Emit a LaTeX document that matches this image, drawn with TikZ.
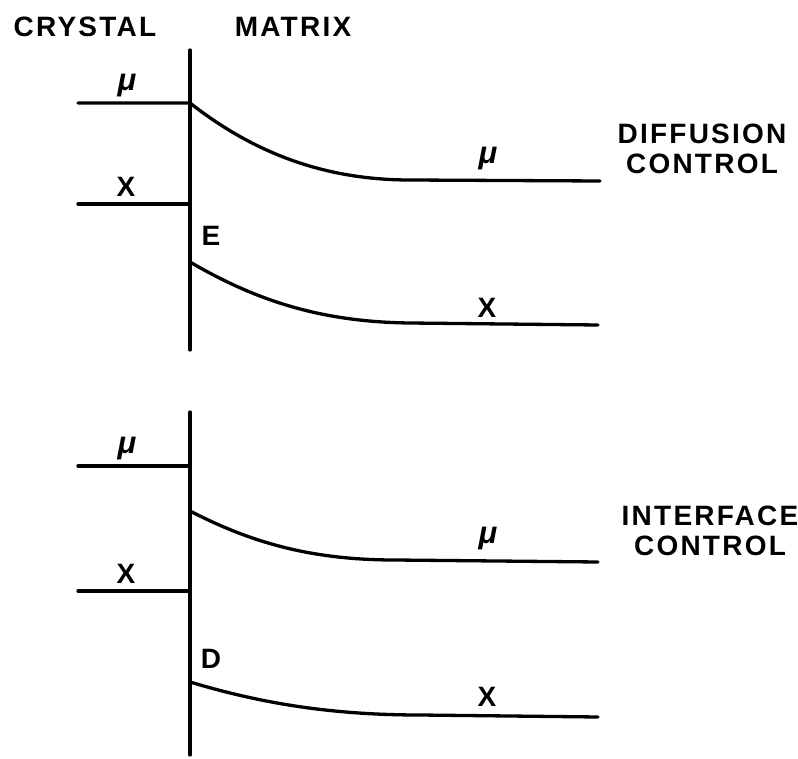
\documentclass[tikz,border=0pt]{standalone}
\usepackage{fontspec}
\setmainfont{Liberation Sans}
\newfontfamily\spacedfont[LetterSpace=8]{Liberation Sans}
\usepackage{tikz}
\usetikzlibrary{positioning}

\begin{document}
\begin{tikzpicture}[
  x=1pt, y=-1pt,
  level/.style={line width=3.3pt, line cap=round},
  title/.style={font=\fontsize{28}{31}\selectfont\spacedfont\bfseries, inner sep=0pt},
  lbl/.style={font=\fontsize{28}{31}\selectfont\bfseries, inner sep=0pt},
  mulbl/.style={font=\fontsize{31}{33}\selectfont\bfseries\itshape, inner sep=0pt},
]
\useasboundingbox (0,0) rectangle (798,759);

% headings
\node[title] (crystal) at (85,27)  {CRYSTAL};
\node[title] (matrix)  at (293,27) {MATRIX};

% top panel: diffusion control
\coordinate (wallTtop) at (190,50);
\coordinate (wallTbot) at (190,350);
\draw[level] (wallTtop) -- (wallTbot);
\coordinate (muTl) at (78,103);
\coordinate (muTw) at (190,103);
\coordinate (muTk) at (410,180);
\coordinate (muTr) at (600,181);
\draw[level] (muTl) -- (muTw) .. controls (250,150) and (320,180) .. (muTk) -- (muTr);
\coordinate (xTl) at (78,204);
\coordinate (xTw) at (190,204);
\draw[level] (xTl) -- (xTw);
\coordinate (xTs) at (190,262);
\coordinate (xTk) at (410,323);
\coordinate (xTr) at (598,325);
\draw[level] (xTs) .. controls (255,300) and (320,322) .. (xTk) -- (xTr);
\node[mulbl] (muTlab)  at (127,86)  {μ};
\node[lbl]   (xTlab)   at (126,187) {X};
\node[lbl]   (eLab)    at (211,236) {E};
\node[mulbl] (muTrlab) at (488,159) {μ};
\node[lbl]   (xTrlab)  at (487,308) {X};
\node[title, align=center] (diffctl) at (702,149)
  {DIFFUSION\\[-1pt]CONTROL};

% bottom panel: interface control
\coordinate (wallBtop) at (190,412);
\coordinate (wallBbot) at (190,755);
\draw[level] (wallBtop) -- (wallBbot);
\coordinate (muBl) at (78,466);
\coordinate (muBw) at (190,466);
\draw[level] (muBl) -- (muBw);
\coordinate (muBs) at (190,511);
\coordinate (muBk) at (395,560);
\coordinate (muBr) at (598,562);
\draw[level] (muBs) .. controls (250,542) and (310,560) .. (muBk) -- (muBr);
\coordinate (xBl) at (78,591);
\coordinate (xBw) at (190,591);
\draw[level] (xBl) -- (xBw);
\coordinate (xBs) at (190,682);
\coordinate (xBk) at (420,715);
\coordinate (xBr) at (598,717);
\draw[level] (xBs) .. controls (260,703) and (330,715) .. (xBk) -- (xBr);
\node[mulbl] (muBlab)  at (127,449) {μ};
\node[lbl]   (xBlab)   at (126,574) {X};
\node[lbl]   (dLab)    at (211,659) {D};
\node[mulbl] (muBrlab) at (488,539) {μ};
\node[lbl]   (xBrlab)  at (487,697) {X};
\node[title, align=center] (intctl) at (710,531)
  {INTERFACE\\[-1pt]CONTROL};
\end{tikzpicture}
\end{document}
